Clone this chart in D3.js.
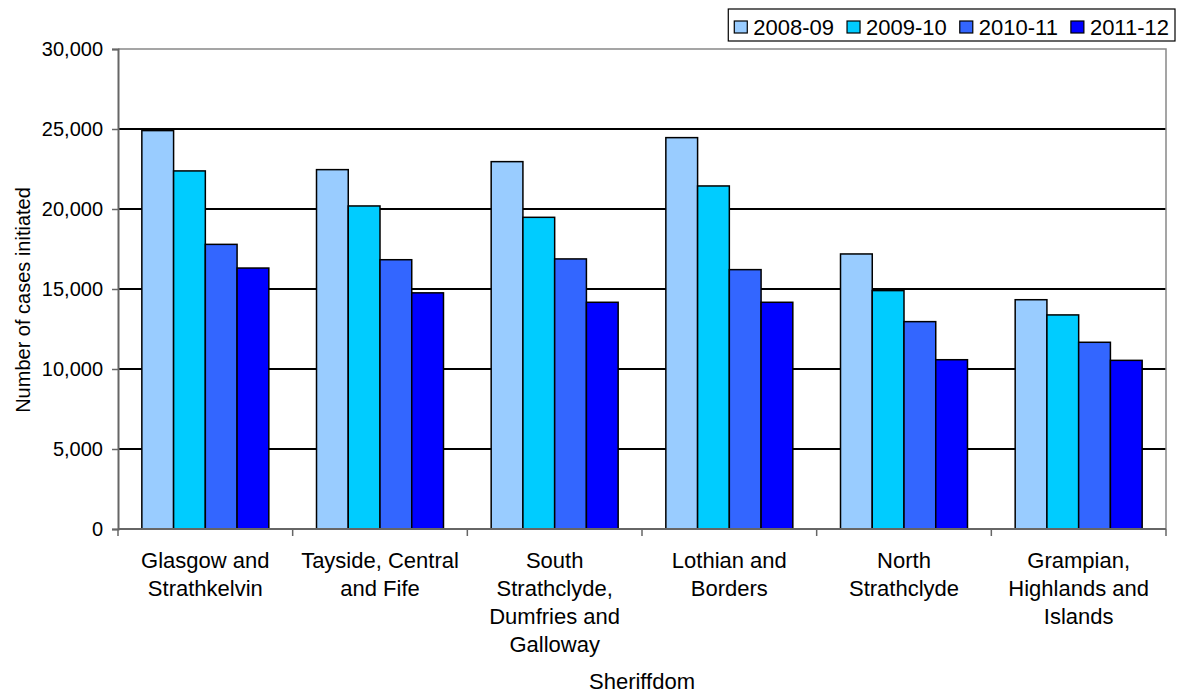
<!DOCTYPE html>
<html>
<head>
<meta charset="utf-8">
<script src="https://cdn.jsdelivr.net/npm/d3@7"></script>
<style>
  html, body { margin: 0; padding: 0; background: #fff; }
  svg { display: block; font-family: Arial, "Liberation Sans", sans-serif; }
</style>
</head>
<body>
<svg id="chart" width="1177" height="693"></svg>
<script>
// Court cases initiated by sheriffdom, four financial years
const sheriffdoms = [
  ["Glasgow and", "Strathkelvin"],
  ["Tayside, Central", "and Fife"],
  ["South", "Strathclyde,", "Dumfries and", "Galloway"],
  ["Lothian and", "Borders"],
  ["North", "Strathclyde"],
  ["Grampian,", "Highlands and", "Islands"]
];
const years = ["2008-09", "2009-10", "2010-11", "2011-12"];
const cases2008_09 = [24900, 22460, 22960, 24460, 17190, 14330];
const cases2009_10 = [22380, 20190, 19480, 21440, 14900, 13380];
const cases2010_11 = [17790, 16830, 16880, 16210, 12960, 11670];
const cases2011_12 = [16310, 14760, 14170, 14170, 10580, 10540];
const yTicks = [0, 5000, 10000, 15000, 20000, 25000, 30000];
const yearColours = ["#99CCFF", "#00CCFF", "#3366FF", "#0000FF"];

const seriesValues = [cases2008_09, cases2009_10, cases2010_11, cases2011_12];
const catKeys = sheriffdoms.map((d, i) => i);

const svg = d3.select("#chart");
const plot = { left: 118, right: 1166, top: 49, bottom: 529 };
const axisGrey = "#666";
const tickFont = 20;
const labelFont = 22;

const x = d3.scaleBand().domain(catKeys).range([plot.left, plot.right])
  .paddingInner(0.273).paddingOuter(0.1365);
const xSub = d3.scaleBand().domain(years).range([0, x.bandwidth()]);
const y = d3.scaleLinear().domain([0, 30000]).range([plot.bottom, plot.top]);

// horizontal gridlines
svg.append("g").selectAll("line")
  .data(yTicks.filter(v => v > 0 && v < 30000))
  .join("line")
  .attr("x1", plot.left).attr("x2", plot.right)
  .attr("y1", d => y(d)).attr("y2", d => y(d))
  .attr("stroke", "#000").attr("stroke-width", 2);

// plot frame (top and right)
svg.append("path")
  .attr("d", `M${plot.left},${plot.top}H${plot.right}V${plot.bottom}`)
  .attr("fill", "none").attr("stroke", "#888").attr("stroke-width", 1.5);

// bars
const groups = svg.append("g").selectAll("g")
  .data(catKeys).join("g")
  .attr("transform", d => `translate(${x(d)},0)`);
groups.selectAll("rect")
  .data(c => years.map((yr, s) => ({ yr, s, v: seriesValues[s][c] })))
  .join("rect")
  .attr("x", d => xSub(d.yr))
  .attr("width", xSub.bandwidth())
  .attr("y", d => y(d.v))
  .attr("height", d => y(0) - y(d.v))
  .attr("fill", d => yearColours[d.s])
  .attr("stroke", "#000").attr("stroke-width", 1.5);

// y axis
const yAxis = svg.append("g")
  .attr("transform", `translate(${plot.left},0)`)
  .call(d3.axisLeft(y).tickValues(yTicks).tickFormat(d3.format(",")).tickSizeOuter(0).tickSize(6).tickPadding(9));
yAxis.select(".domain").attr("stroke", axisGrey).attr("stroke-width", 2);
yAxis.selectAll(".tick line").attr("stroke", axisGrey).attr("stroke-width", 1.5);
yAxis.selectAll(".tick text").attr("font-size", tickFont).attr("fill", "#000")
  .attr("font-family", "Arial, 'Liberation Sans', sans-serif");

// x axis with ticks between categories
const step = x.step();
const boundaries = d3.range(catKeys.length + 1).map(i => plot.left + i * step);
const xAxisG = svg.append("g");
xAxisG.append("line")
  .attr("x1", plot.left).attr("x2", plot.right)
  .attr("y1", plot.bottom).attr("y2", plot.bottom)
  .attr("stroke", axisGrey).attr("stroke-width", 2);
xAxisG.selectAll("line.tk").data(boundaries).join("line")
  .attr("class", "tk")
  .attr("x1", d => d).attr("x2", d => d)
  .attr("y1", plot.bottom).attr("y2", plot.bottom + 7)
  .attr("stroke", axisGrey).attr("stroke-width", 1.5);

// category labels
const catLabels = svg.append("g").selectAll("text")
  .data(catKeys).join("text")
  .attr("text-anchor", "middle")
  .attr("font-size", labelFont)
  .attr("fill", "#000")
  .attr("x", d => x(d) + x.bandwidth() / 2)
  .attr("y", 568);
catLabels.selectAll("tspan")
  .data(d => sheriffdoms[d].map(line => ({ line, cx: x(d) + x.bandwidth() / 2 })))
  .join("tspan")
  .attr("x", d => d.cx)
  .attr("dy", (d, i) => i === 0 ? 0 : 28)
  .text(d => d.line);

// axis titles
svg.append("text")
  .attr("x", (plot.left + plot.right) / 2).attr("y", 689)
  .attr("text-anchor", "middle").attr("font-size", labelFont)
  .text("Sheriffdom");
svg.append("text")
  .attr("transform", `translate(30,300) rotate(-90)`)
  .attr("text-anchor", "middle").attr("font-size", tickFont)
  .text("Number of cases initiated");

// legend, laid out right-to-left from the chart's right edge
const legendRight = 1175;
const legend = svg.append("g");
const legendItems = legend.selectAll("g").data(years).join("g");
let cursor = 0;
legendItems.each(function (yr, i) {
  const g = d3.select(this).attr("transform", `translate(${cursor},0)`);
  g.append("rect").attr("x", 0).attr("y", 21).attr("width", 13).attr("height", 12)
    .attr("fill", yearColours[i]).attr("stroke", "#000").attr("stroke-width", 1.2);
  const t = g.append("text").attr("x", 19).attr("y", 35).attr("font-size", labelFont).text(yr);
  cursor += 19 + t.node().getComputedTextLength() + 13;
});
const legendWidth = cursor - 13 + 12;
const legendX = legendRight - legendWidth;
legend.attr("transform", `translate(${legendX + 6},0)`);
svg.insert("rect", "g")
  .attr("x", legendX).attr("y", 9)
  .attr("width", legendWidth).attr("height", 32)
  .attr("fill", "#fff").attr("stroke", "#000").attr("stroke-width", 1.2);
</script>
</body>
</html>
